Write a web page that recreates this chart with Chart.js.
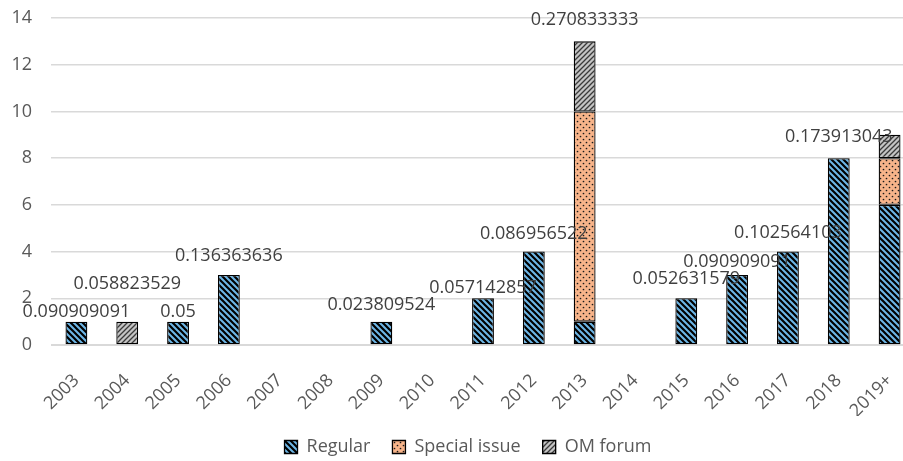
<!DOCTYPE html>
<html>
<head>
<meta charset="utf-8">
<script src="https://cdn.jsdelivr.net/npm/chart.js@4.4.1/dist/chart.umd.min.js"></script>
<style>
  html, body { margin: 0; padding: 0; background: #fff; overflow: hidden; }
  #wrap { position: relative; width: 936px; height: 461px; }
</style>
</head>
<body>
<div id="wrap"><canvas id="c"></canvas></div>
<script>
// ---- data ----
const years = ['2003','2004','2005','2006','2007','2008','2009','2010','2011','2012','2013','2014','2015','2016','2017','2018','2019+'];
const regular      = [1,0,1,3,0,0,1,0,2,4,1,0,2,3,4,8,6];
const specialIssue = [0,0,0,0,0,0,0,0,0,0,9,0,0,0,0,0,2];
const omForum      = [0,1,0,0,0,0,0,0,0,0,3,0,0,0,0,0,1];
const ratioLabels  = ['0.090909091','0.058823529','0.05','0.136363636','','','0.023809524','','0.057142857','0.086956522','0.270833333','','0.052631579','0.090909091','0.102564103','0.173913043',''];
const ratioAnchor  = [1.42,2.6,1.42,3.8,null,null,1.72,null,2.45,4.74,13.9,null,2.84,3.58,4.78,8.9,null];
const yTicks = [0,2,4,6,8,10,12,14];

// ---- patterns ----
function stripePattern(bg, fg, size, lw, dir) {
  const c = document.createElement('canvas');
  c.width = size; c.height = size;
  const x = c.getContext('2d');
  x.fillStyle = bg; x.fillRect(0, 0, size, size);
  x.strokeStyle = fg; x.lineWidth = lw; x.lineCap = 'square';
  x.beginPath();
  for (const k of [-size, 0, size]) {
    if (dir === 'back') { x.moveTo(k, 0); x.lineTo(k + size, size); }
    else { x.moveTo(k, size); x.lineTo(k + size, 0); }
  }
  x.stroke();
  return x.createPattern(c, 'repeat');
}
function dotPattern(bg, fg, size, r) {
  const c = document.createElement('canvas');
  c.width = size; c.height = size;
  const x = c.getContext('2d');
  x.fillStyle = bg; x.fillRect(0, 0, size, size);
  x.fillStyle = fg;
  for (const [px, py] of [[1.5, 1.5], [size / 2 + 1.5, size / 2 + 1.5]]) {
    x.beginPath(); x.arc(px, py, r, 0, Math.PI * 2); x.fill();
  }
  return x.createPattern(c, 'repeat');
}
const regPat = stripePattern('#6DB6E6', '#000000', 6, 2.2, 'back');
const spPat  = dotPattern('#F7B48A', '#1a1a1a', 6, 0.85);
const omPat  = stripePattern('#C4C4C4', '#3a3a3a', 5, 1.3, 'fwd');

const nz = a => a.map(v => (v === 0 ? null : v));

const labelPlugin = {
  id: 'ratioLabels',
  afterLayout(chart) {
    if (chart.legend) { chart.legend.left += 10.5; chart.legend.right += 10.5; }
  },
  afterDatasetsDraw(chart) {
    const ctx = chart.ctx, xs = chart.scales.x, ys = chart.scales.y;
    ctx.save();
    ctx.font = '18px "Open Sans"';
    ctx.fillStyle = '#404040';
    ctx.textAlign = 'center';
    ctx.textBaseline = 'middle';
    ratioLabels.forEach((t, i) => {
      if (!t || ratioAnchor[i] == null) return;
      ctx.fillText(t, xs.getPixelForValue(i), ys.getPixelForValue(ratioAnchor[i]));
    });
    ctx.restore();
  }
};

const common = { borderColor: '#000', borderWidth: 1.3, borderSkipped: false, barPercentage: 0.43, categoryPercentage: 1.0 };

new Chart(document.getElementById('c'), {
  type: 'bar',
  data: {
    labels: years,
    datasets: [
      Object.assign({ label: 'Regular', data: nz(regular), backgroundColor: regPat }, common),
      Object.assign({ label: 'Special issue', data: nz(specialIssue), backgroundColor: spPat }, common),
      Object.assign({ label: 'OM forum', data: nz(omForum), backgroundColor: omPat }, common)
    ]
  },
  options: {
    responsive: true,
    maintainAspectRatio: false,
    animation: false,
    layout: { padding: { top: 18, right: 21, left: 0, bottom: -5 } },
    plugins: {
      tooltip: { enabled: false },
      legend: {
        position: 'bottom',
        labels: {
          font: { family: 'Open Sans', size: 18 },
          color: '#595959',
          boxWidth: 13, boxHeight: 13,
          padding: 22
        }
      }
    },
    scales: {
      x: {
        stacked: true,
        grid: { display: false },
        border: { display: true, color: '#D9D9D9', width: 1 },
        ticks: {
          font: { family: 'Open Sans', size: 18 },
          color: '#595959',
          minRotation: 45, maxRotation: 45,
          padding: 17
        },
        afterFit(s) { s.height = 71; s.paddingLeft = 0; s.paddingRight = 0; }
      },
      y: {
        stacked: true,
        min: 0, max: 14,
        afterBuildTicks(s) { s.ticks = yTicks.map(v => ({ value: v })); },
        grid: { color: '#D9D9D9', lineWidth: 1.5, drawTicks: false },
        border: { display: false },
        ticks: {
          font: { family: 'Open Sans', size: 18 },
          color: '#595959',
          padding: 19
        },
        afterFit(s) { s.width = 51; s.paddingTop = 0; s.paddingBottom = 0; }
      }
    }
  },
  plugins: [labelPlugin]
});
</script>
</body>
</html>
